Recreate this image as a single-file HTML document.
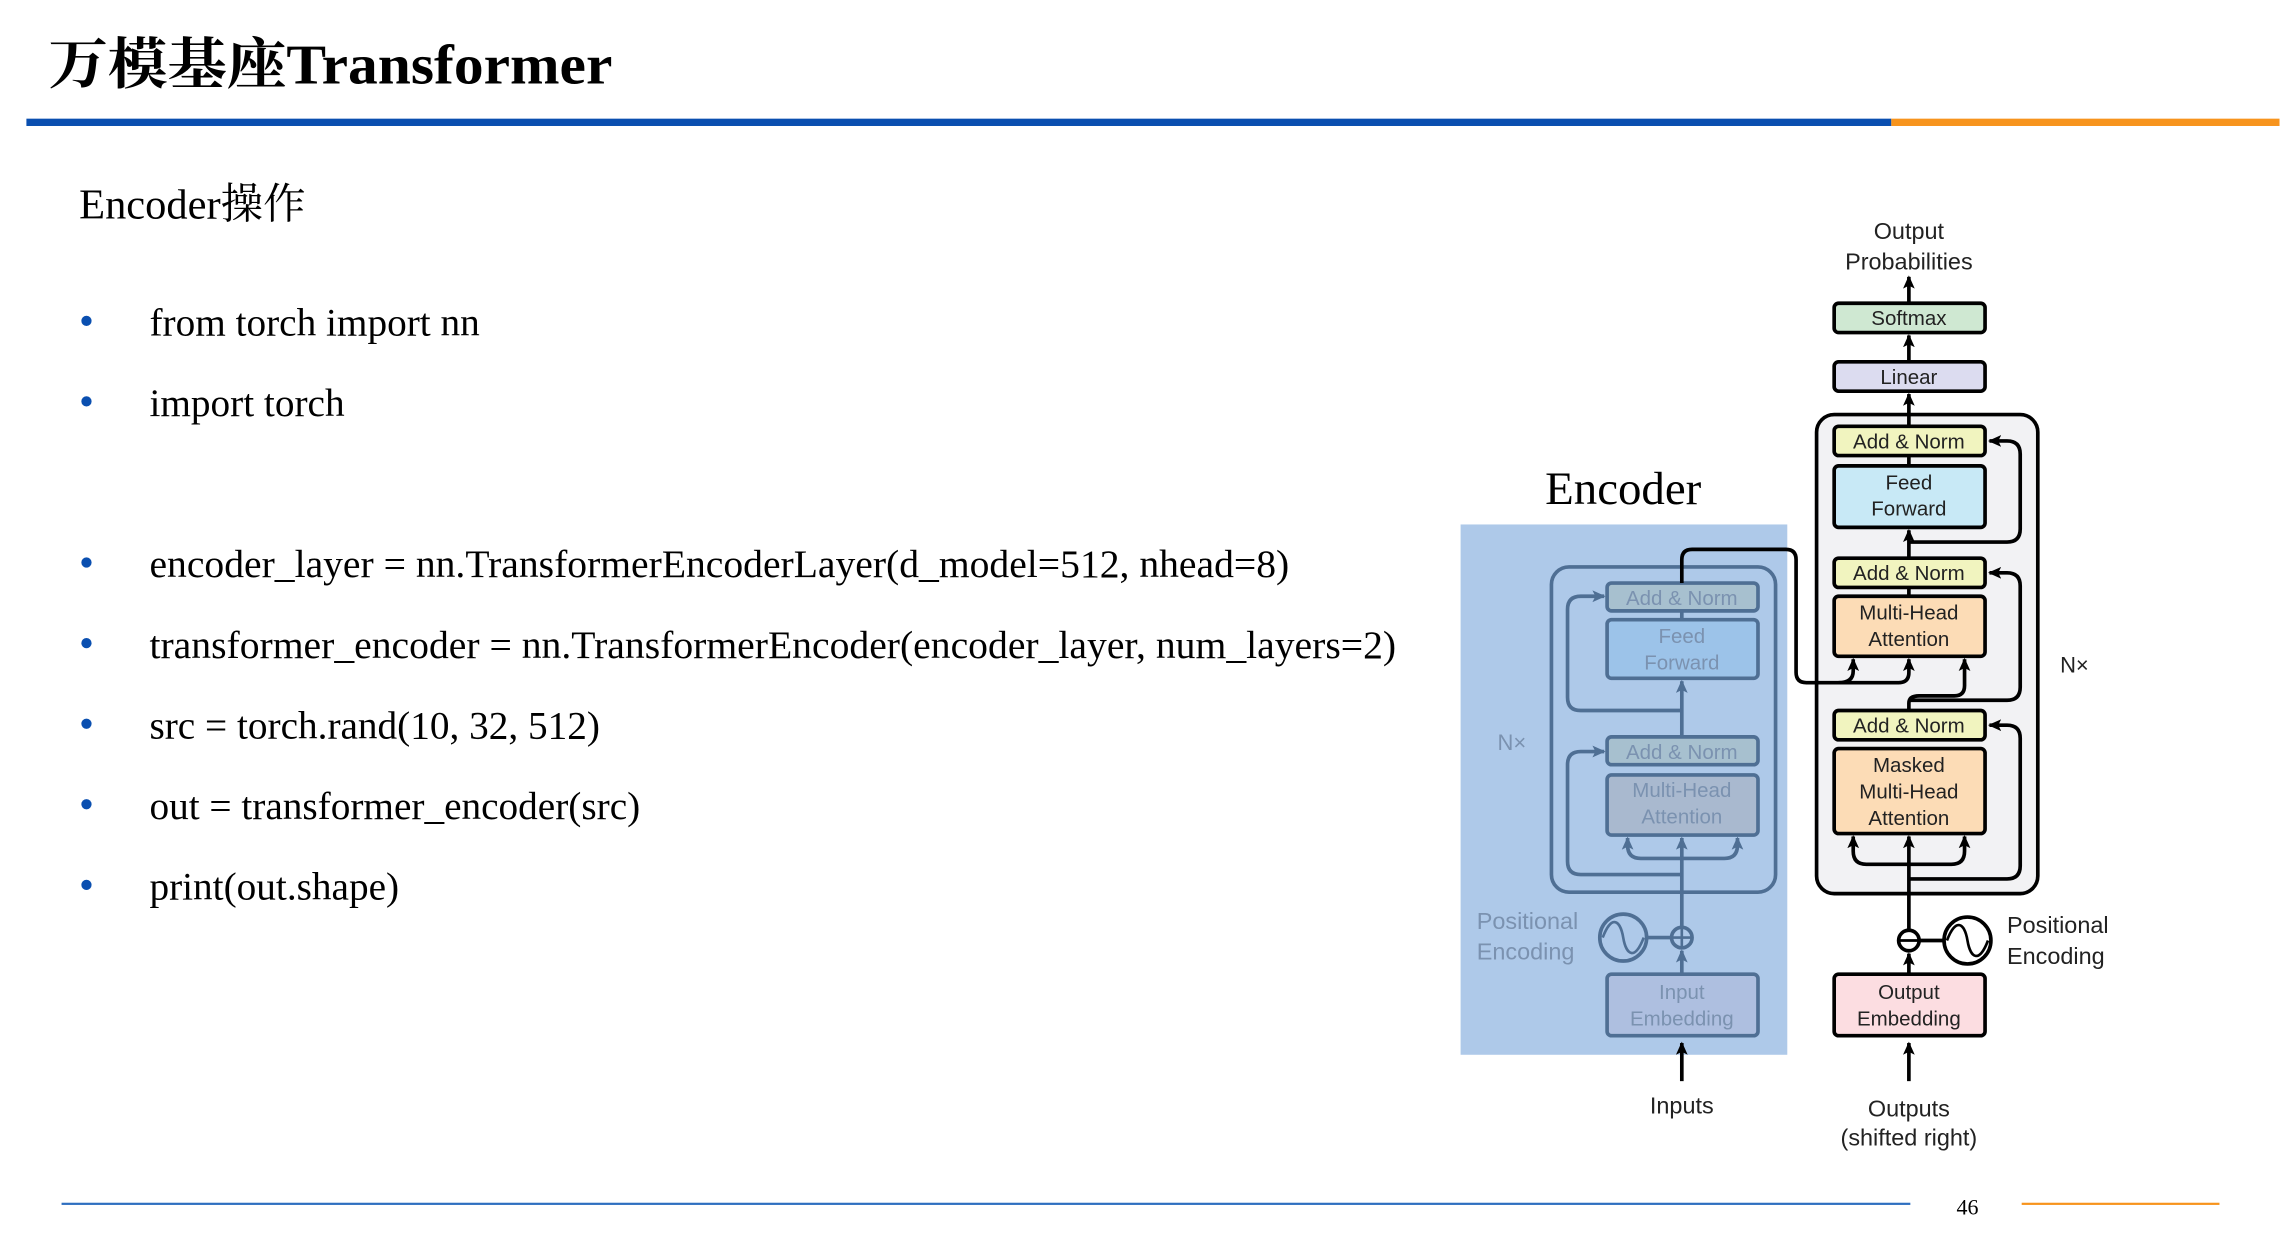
<!DOCTYPE html>
<html><head><meta charset="utf-8"><style>
html,body{margin:0;padding:0;background:#fff;width:2286px;height:1248px;overflow:hidden}
svg{display:block}
.serif{font-family:"Liberation Serif","Noto Serif CJK SC",serif}
.sans{font-family:"Liberation Sans","Noto Sans CJK SC",sans-serif}
</style></head><body>
<svg width="2286" height="1248" viewBox="0 0 1560.4 851.9" xmlns="http://www.w3.org/2000/svg">
<defs>
<marker id="ab" markerUnits="userSpaceOnUse" markerWidth="10" markerHeight="10" refX="8" refY="5" orient="auto"><path d="M0,1 L9,5 L0,9 L2,5 Z" fill="#000"/></marker>
<marker id="ae" markerUnits="userSpaceOnUse" markerWidth="10" markerHeight="10" refX="8" refY="5" orient="auto"><path d="M0,1 L9,5 L0,9 L2,5 Z" fill="#4f6f94"/></marker>
</defs>
<!-- header -->
<text x="33" y="57" class="serif" font-size="38" font-weight="bold" textLength="385" lengthAdjust="spacingAndGlyphs">万模基座Transformer</text>
<rect x="18" y="81" width="1273" height="5" fill="#0a4fb0"/>
<rect x="1291" y="81" width="265" height="5" fill="#f7941d"/>
<text x="54" y="149" class="serif" font-size="29">Encoder操作</text>
<g class="serif" font-size="26.8" fill="#000">
<text x="102" y="229">from torch import nn</text>
<text x="102" y="284">import torch</text>
<text x="102" y="394" textLength="778" lengthAdjust="spacingAndGlyphs">encoder_layer = nn.TransformerEncoderLayer(d_model=512, nhead=8)</text>
<text x="102" y="449" textLength="851" lengthAdjust="spacingAndGlyphs">transformer_encoder = nn.TransformerEncoder(encoder_layer, num_layers=2)</text>
<text x="102" y="504">src = torch.rand(10, 32, 512)</text>
<text x="102" y="559">out = transformer_encoder(src)</text>
<text x="102" y="614">print(out.shape)</text>
</g>
<g fill="#0a4fb0">
<circle cx="59" cy="219" r="3.5"/><circle cx="59" cy="274" r="3.5"/><circle cx="59" cy="384" r="3.5"/><circle cx="59" cy="439" r="3.5"/><circle cx="59" cy="494" r="3.5"/><circle cx="59" cy="549" r="3.5"/><circle cx="59" cy="604" r="3.5"/>
</g>
<!-- footer -->
<rect x="42" y="821" width="1262" height="1.5" fill="#2e6fc0"/>
<rect x="1380" y="821" width="135" height="1.5" fill="#f7941d"/>
<text x="1343" y="829" class="serif" font-size="15" text-anchor="middle">46</text>

<!-- Encoder title & bg -->
<text x="1108" y="344" class="serif" font-size="32" text-anchor="middle">Encoder</text>
<rect x="997" y="358" width="223" height="362" fill="#aec9e9"/>

<!-- Encoder diagram (muted) -->
<g fill="none" stroke="#4f6f94" stroke-width="2.5">
<rect x="1059" y="387" width="153" height="222" rx="12"/>
<path d="M1148 738 V712" stroke="#000" marker-end="url(#ab)"/>
<path d="M1148 665 V649" marker-end="url(#ae)"/>
<path d="M1148 633 V572" marker-end="url(#ae)"/>
<path d="M1148 586 H1120 Q1111 586 1111 577 V572" marker-end="url(#ae)"/>
<path d="M1148 586 H1177 Q1186 586 1186 577 V572" marker-end="url(#ae)"/>
<path d="M1148 597 H1079 Q1070 597 1070 588 V522 Q1070 513 1079 513 H1095" marker-end="url(#ae)"/>
<path d="M1148 503 V465" marker-end="url(#ae)"/>
<path d="M1148 485 H1079 Q1070 485 1070 476 V416 Q1070 407 1079 407 H1095" marker-end="url(#ae)"/>
<path d="M1148 423 V418"/>
<circle cx="1148" cy="640" r="7"/>
<path d="M1141 640 H1155 M1148 633 V647" stroke-width="1.8"/>
<circle cx="1108" cy="640" r="16"/>
<path d="M1094 640 C1100 624 1106 628 1108 640 C1110 652 1116 656 1122 640" stroke-width="1.8"/>
<path d="M1124 640 H1141"/>
</g>
<g stroke="#4f6f94" stroke-width="2.5">
<rect x="1097" y="398" width="103" height="19" rx="3" fill="#a7c0cf"/>
<rect x="1097" y="423" width="103" height="40" rx="3" fill="#9cc3e9"/>
<rect x="1097" y="503" width="103" height="19" rx="3" fill="#a7c0cf"/>
<rect x="1097" y="529" width="103" height="41" rx="3" fill="#a9b9cf"/>
<rect x="1097" y="665" width="103" height="42" rx="3" fill="#aebfe0"/>
</g>
<g class="sans" font-size="14" fill="#7b92b0" text-anchor="middle">
<text x="1148" y="413">Add &amp; Norm</text>
<text x="1148" y="439">Feed</text><text x="1148" y="457">Forward</text>
<text x="1148" y="518">Add &amp; Norm</text>
<text x="1148" y="544">Multi-Head</text><text x="1148" y="562">Attention</text>
<text x="1148" y="682">Input</text><text x="1148" y="700">Embedding</text>
<text x="1032" y="512" font-size="15">N×</text>
<text x="1008" y="634" text-anchor="start" font-size="16">Positional</text>
<text x="1008" y="655" text-anchor="start" font-size="16">Encoding</text>
</g>
<g class="sans" font-size="16" fill="#222" text-anchor="middle">
<text x="1148" y="760">Inputs</text>
<text x="1303" y="762">Outputs</text><text x="1303" y="782">(shifted right)</text>
<text x="1303" y="163">Output</text><text x="1303" y="184">Probabilities</text>
<text x="1416" y="459" font-size="15">N×</text>
<text x="1370" y="637" text-anchor="start">Positional</text>
<text x="1370" y="658" text-anchor="start">Encoding</text>
</g>

<!-- Decoder -->
<rect x="1240" y="283" width="151" height="327" rx="12" fill="#f2f2f4" stroke="#000" stroke-width="2.5"/>
<g fill="none" stroke="#000" stroke-width="2.5">
<path d="M1148 398 V382 Q1148 375 1155 375 H1219 Q1226 375 1226 382 V459 Q1226 466 1233 466 H1296 Q1303 466 1303 459 V450" marker-end="url(#ab)"/>
<path d="M1255 466 Q1265 466 1265 458 V450" marker-end="url(#ab)"/>
<path d="M1303 738 V712" marker-end="url(#ab)"/>
<path d="M1303 665 V651" marker-end="url(#ab)"/>
<path d="M1303 635 V571" marker-end="url(#ab)"/>
<path d="M1303 590 H1274 Q1265 590 1265 581 V571" marker-end="url(#ab)"/>
<path d="M1303 590 H1332 Q1341 590 1341 581 V571" marker-end="url(#ab)"/>
<path d="M1303 600 H1370 Q1379 600 1379 591 V504 Q1379 495 1370 495 H1358" marker-end="url(#ab)"/>
<path d="M1303 485 V480 Q1303 475 1310 475 H1334 Q1341 475 1341 468 V450" marker-end="url(#ab)"/>
<path d="M1303 478 H1370 Q1379 478 1379 469 V400 Q1379 391 1370 391 H1358" marker-end="url(#ab)"/>
<path d="M1303 407 V402"/>
<path d="M1303 381 V362" marker-end="url(#ab)"/>
<path d="M1303 370 H1370 Q1379 370 1379 361 V310 Q1379 301 1370 301 H1358" marker-end="url(#ab)"/>
<path d="M1303 318 V312"/>
<path d="M1303 291 V269" marker-end="url(#ab)"/>
<path d="M1303 247 V229" marker-end="url(#ab)"/>
<path d="M1303 207 V189" marker-end="url(#ab)"/>
<circle cx="1303" cy="642" r="7"/>
<path d="M1296 642 H1310" stroke-width="1.8"/>
<circle cx="1343" cy="642" r="16"/>
<path d="M1329 642 C1335 626 1341 630 1343 642 C1345 654 1351 658 1357 642" stroke-width="1.8"/>
<path d="M1310 642 H1327"/>
</g>
<g stroke="#000" stroke-width="2.5">
<rect x="1252" y="207" width="103" height="20" rx="3" fill="#cfe8d2"/>
<rect x="1252" y="247" width="103" height="20" rx="3" fill="#dcdcf0"/>
<rect x="1252" y="291" width="103" height="20" rx="3" fill="#f1f4bf"/>
<rect x="1252" y="318" width="103" height="42" rx="3" fill="#c8e9f6"/>
<rect x="1252" y="381" width="103" height="20" rx="3" fill="#f1f4bf"/>
<rect x="1252" y="407" width="103" height="41" rx="3" fill="#fcdcb6"/>
<rect x="1252" y="485" width="103" height="20" rx="3" fill="#f1f4bf"/>
<rect x="1252" y="511" width="103" height="58" rx="3" fill="#fcdcb6"/>
<rect x="1252" y="665" width="103" height="42" rx="3" fill="#fcdde1"/>
</g>
<g class="sans" font-size="14" fill="#222" text-anchor="middle">
<text x="1303" y="222">Softmax</text>
<text x="1303" y="262">Linear</text>
<text x="1303" y="306">Add &amp; Norm</text>
<text x="1303" y="334">Feed</text><text x="1303" y="352">Forward</text>
<text x="1303" y="396">Add &amp; Norm</text>
<text x="1303" y="423">Multi-Head</text><text x="1303" y="441">Attention</text>
<text x="1303" y="500">Add &amp; Norm</text>
<text x="1303" y="527">Masked</text><text x="1303" y="545">Multi-Head</text><text x="1303" y="563">Attention</text>
<text x="1303" y="682">Output</text><text x="1303" y="700">Embedding</text>
</g>
</svg>
</body></html>
